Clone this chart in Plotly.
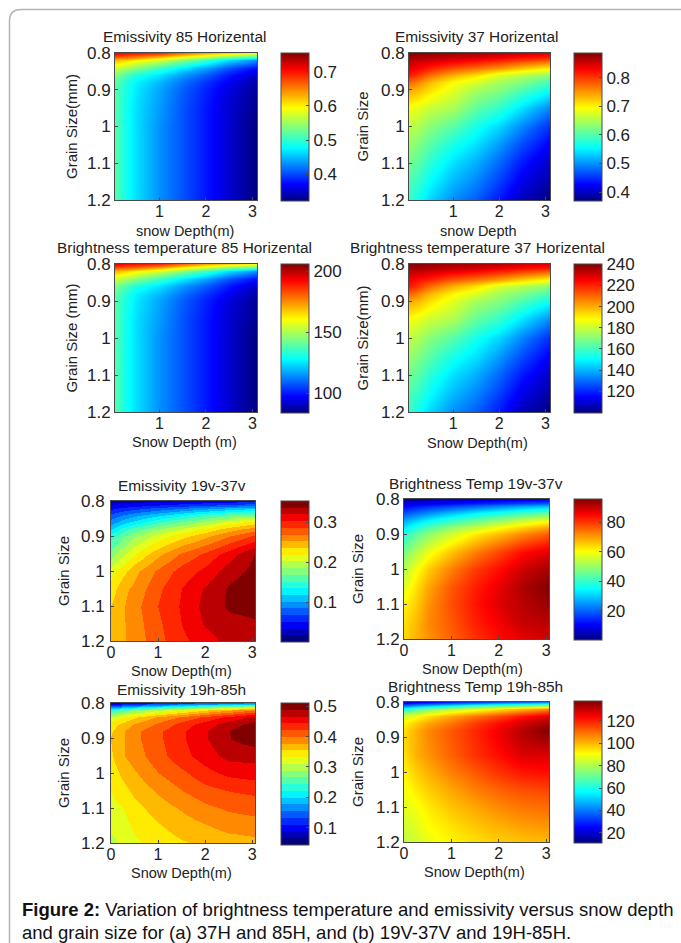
import plotly.graph_objects as go

W, H = 681, 943

# Axis samples
depth_a = [0.04, 0.25, 0.5, 1, 1.5, 2, 2.5, 3.1]
depth_b = [0, 0.25, 0.5, 1, 1.5, 2, 2.5, 3.06]
grain = [0.8, 0.81, 0.82, 0.84, 0.86, 0.88, 0.9, 0.95, 1.0, 1.05, 1.1, 1.15, 1.2]
grain_ticks = [0.8, 0.9, 1, 1.1, 1.2]
grain_labels = ["0.8", "0.9", "1", "1.1", "1.2"]

em85h = [
    [.712, .703, .699, .690, .660, .634, .612, .590],
    [.668, .660, .651, .625, .590, .560, .530, .504],
    [.625, .616, .599, .573, .539, .504, .465, .430],
    [.573, .556, .539, .504, .469, .439, .404, .374],
    [.539, .513, .491, .465, .435, .409, .378, .348],
    [.521, .495, .474, .448, .417, .391, .365, .335],
    [.517, .491, .469, .439, .409, .383, .357, .331],
    [.517, .487, .465, .435, .404, .378, .352, .326],
    [.517, .487, .465, .430, .404, .378, .352, .322],
    [.517, .487, .465, .430, .404, .378, .352, .322],
    [.517, .487, .465, .430, .404, .378, .352, .322],
    [.517, .487, .465, .430, .404, .378, .352, .322],
    [.517, .487, .465, .430, .404, .378, .352, .322],
]
em37h = [
    [.881, .881, .876, .871, .865, .860, .850, .839],
    [.871, .871, .865, .855, .850, .839, .824, .814],
    [.860, .855, .850, .839, .829, .814, .798, .783],
    [.840, .829, .814, .788, .772, .752, .726, .700],
    [.819, .798, .772, .736, .710, .675, .655, .633],
    [.777, .756, .731, .695, .674, .645, .625, .591],
    [.741, .730, .710, .679, .645, .627, .596, .560],
    [.690, .679, .664, .648, .607, .581, .540, .493],
    [.659, .648, .628, .602, .565, .534, .493, .447],
    [.638, .622, .602, .566, .540, .503, .462, .421],
    [.617, .602, .576, .540, .514, .478, .436, .400],
    [.596, .581, .555, .519, .493, .457, .416, .385],
    [.586, .560, .534, .498, .472, .436, .395, .369],
]
tb85h = [
    [193.8, 191.4, 190.1, 187.7, 179.2, 171.8, 165.7, 159.6],
    [181.6, 179.2, 176.7, 169.4, 159.6, 151.1, 142.6, 135.2],
    [169.4, 167.0, 162.1, 154.8, 145.0, 135.2, 124.3, 114.5],
    [154.8, 149.9, 145.0, 135.2, 125.5, 116.9, 107.2, 98.6],
    [145.0, 137.7, 131.6, 124.3, 115.7, 108.4, 99.9, 91.3],
    [140.1, 132.8, 126.7, 119.4, 110.8, 103.5, 96.2, 87.7],
    [138.9, 131.6, 125.5, 116.9, 108.4, 101.1, 93.8, 86.4],
    [138.9, 130.4, 124.3, 115.7, 107.2, 99.9, 92.5, 85.2],
    [138.9, 130.4, 124.3, 114.5, 107.2, 99.9, 92.5, 84.0],
    [138.9, 130.4, 124.3, 114.5, 107.2, 99.9, 92.5, 84.0],
    [138.9, 130.4, 124.3, 114.5, 107.2, 99.9, 92.5, 84.0],
    [138.9, 130.4, 124.3, 114.5, 107.2, 99.9, 92.5, 84.0],
    [138.9, 130.4, 124.3, 114.5, 107.2, 99.9, 92.5, 84.0],
]
tb37h = [
    [238.9, 238.9, 237.5, 236.1, 234.7, 233.3, 230.4, 227.6],
    [236.1, 236.1, 234.7, 231.8, 230.4, 227.6, 223.4, 220.6],
    [233.3, 231.8, 230.4, 227.6, 224.8, 220.6, 216.3, 212.1],
    [226.2, 223.4, 220.6, 213.5, 209.3, 203.7, 196.6, 189.6],
    [222.0, 216.3, 209.3, 199.4, 192.4, 182.5, 177.0, 171.3],
    [210.7, 205.1, 198.0, 188.9, 182.5, 174.1, 168.4, 160.0],
    [200.8, 198.0, 192.4, 183.9, 174.8, 169.9, 161.4, 151.5],
    [186.8, 183.9, 179.7, 175.5, 164.2, 157.2, 145.9, 133.2],
    [178.3, 175.5, 169.9, 162.8, 152.9, 144.5, 133.2, 120.5],
    [172.7, 168.4, 162.8, 152.9, 145.9, 136.0, 124.8, 113.5],
    [167.0, 162.8, 155.8, 145.9, 138.9, 129.0, 117.7, 107.9],
    [161.4, 157.2, 150.1, 140.3, 133.2, 123.4, 112.1, 103.6],
    [158.6, 151.5, 144.5, 134.6, 127.6, 117.7, 106.4, 99.4],
]
em19v37v = [
    [.021, .025, .028, .032, .035, .039, .042, .046],
    [.035, .039, .042, .050, .057, .064, .071, .078],
    [.046, .053, .060, .071, .081, .092, .103, .113],
    [.071, .085, .096, .113, .131, .149, .163, .177],
    [.092, .110, .124, .149, .170, .188, .209, .227],
    [.117, .142, .159, .184, .205, .223, .244, .262],
    [.142, .166, .184, .209, .230, .248, .269, .290],
    [.177, .198, .219, .248, .273, .290, .312, .338],
    [.212, .230, .248, .273, .294, .308, .329, .343],
    [.227, .248, .258, .283, .304, .322, .340, .350],
    [.237, .251, .264, .287, .306, .326, .340, .343],
    [.241, .251, .262, .283, .304, .322, .331, .335],
    [.244, .251, .260, .281, .299, .313, .326, .335],
]
tb19v37v = [
    [3.0, 3.9, 4.9, 5.8, 6.8, 7.8, 8.7, 9.7],
    [6.8, 7.8, 8.7, 10.6, 12.5, 14.5, 16.4, 18.3],
    [10.6, 12.5, 14.5, 17.3, 20.2, 23.1, 26.0, 28.8],
    [18.3, 21.2, 24.0, 28.8, 33.6, 37.4, 41.3, 45.1],
    [26.0, 29.8, 33.6, 39.3, 44.1, 48.9, 53.7, 58.5],
    [32.6, 37.4, 42.2, 48.9, 53.7, 59.4, 64.2, 69.0],
    [38.4, 44.1, 48.9, 55.6, 62.3, 67.1, 71.9, 76.7],
    [47.0, 52.7, 58.5, 66.1, 72.8, 78.6, 84.3, 88.1],
    [52.7, 59.4, 65.2, 72.8, 79.5, 84.3, 89.1, 92.9],
    [57.5, 63.3, 69.0, 76.7, 82.4, 87.2, 92.0, 95.8],
    [61.3, 65.2, 70.9, 77.6, 83.4, 88.1, 91.0, 93.9],
    [63.3, 67.1, 71.9, 76.7, 82.4, 86.2, 90.1, 91.0],
    [64.2, 68.0, 70.9, 75.7, 80.5, 84.3, 87.2, 89.1],
]
em19h85h = [
    [.080, .089, .099, .113, .127, .136, .146, .160],
    [.160, .178, .197, .221, .249, .272, .291, .310],
    [.230, .253, .277, .305, .328, .352, .375, .399],
    [.314, .333, .352, .380, .403, .427, .450, .474],
    [.342, .361, .380, .403, .431, .455, .478, .497],
    [.352, .375, .394, .417, .441, .464, .488, .511],
    [.356, .375, .394, .417, .441, .464, .488, .502],
    [.352, .375, .389, .413, .436, .455, .474, .474],
    [.342, .361, .375, .399, .417, .436, .450, .455],
    [.333, .347, .361, .380, .399, .413, .422, .427],
    [.324, .333, .347, .366, .380, .394, .403, .408],
    [.314, .324, .338, .352, .366, .375, .385, .389],
    [.305, .314, .328, .342, .352, .361, .366, .370],
]
tb19h85h = [
    [18.6, 22.4, 24.9, 28.7, 32.5, 36.3, 38.8, 42.6],
    [42.6, 47.7, 52.7, 59.1, 66.7, 73.0, 78.0, 83.1],
    [61.6, 67.9, 74.3, 81.8, 88.2, 94.5, 100.8, 107.1],
    [84.4, 89.4, 94.5, 102.1, 108.4, 114.7, 121.1, 127.4],
    [92.0, 97.0, 102.1, 108.4, 116.0, 122.3, 128.6, 133.7],
    [94.5, 100.8, 105.9, 112.2, 118.5, 124.9, 131.2, 137.5],
    [95.8, 100.8, 105.9, 112.2, 118.5, 124.9, 131.2, 135.0],
    [94.5, 100.8, 104.6, 110.9, 117.3, 122.3, 127.4, 127.4],
    [92.0, 97.0, 100.8, 107.1, 112.2, 117.3, 121.1, 122.3],
    [89.4, 93.2, 97.0, 102.1, 107.1, 110.9, 113.5, 114.7],
    [86.9, 89.4, 93.2, 98.3, 102.1, 105.9, 108.4, 109.7],
    [84.4, 86.9, 90.7, 94.5, 98.3, 100.8, 103.4, 104.6],
    [81.8, 84.4, 88.2, 92.0, 94.5, 97.0, 98.3, 99.6],
]

JET_STOPS = [(0.0, (0, 0, 128)), (0.11, (0, 0, 255)), (0.36, (0, 255, 255)),
             (0.63, (255, 255, 0)), (0.89, (255, 0, 0)), (1.0, (128, 0, 0))]


def jet(t):
    for (a, ca), (b, cb) in zip(JET_STOPS, JET_STOPS[1:]):
        if t <= b:
            u = (t - a) / (b - a)
            return tuple(round(p + (q - p) * u) for p, q in zip(ca, cb))
    return JET_STOPS[-1][1]


def rgb(c):
    return f"rgb({c[0]},{c[1]},{c[2]})"


JET = [[s, rgb(c)] for s, c in JET_STOPS]


def stepped(n):
    scale = []
    for i in range(n):
        c = rgb(jet(i / (n - 1)))
        scale += [[i / n, c], [(i + 1) / n, c]]
    return scale


FONT = "Liberation Sans, Arial, sans-serif"
INK = "#222222"
LINE = "#4a4a4a"

panels = [
    dict(z=em85h, x=depth_a, zr=(.322, .755), cticks=[.4, .5, .6, .7], cs=JET, title="Emissivity 85 Horizental",
         xt="snow Depth(m)", yt="Grain Size(mm)", box=(115, 257, 53, 200), cb=(53, 201), tx=184, ty=37,
         xl=(185, 231), ys=5, yg=0),
    dict(z=em37h, x=depth_a, zr=(.369, .886), cticks=[.4, .5, .6, .7, .8], cs=JET, title="Emissivity 37 Horizental",
         xt="snow Depth", yt="Grain Size", box=(409, 550, 53, 200), cb=(53, 201), tx=476, ty=37,
         xl=(478, 231), ys=8, yg=0),
    dict(z=tb85h, x=depth_a, zr=(84, 206), cticks=[100, 150, 200], cs=JET, title="Brightness temperature 85 Horizental",
         xt="Snow Depth (m)", yt="Grain Size (mm)", box=(115, 257, 264, 412), cb=(264, 413), tx=184, ty=248,
         xl=(184, 442), ys=5, yg=0),
    dict(z=tb37h, x=depth_a, zr=(99.4, 240.3), cticks=[120, 140, 160, 180, 200, 220, 240], cs=JET,
         title="Brightness temperature 37 Horizental",
         xt="Snow Depth(m)", yt="Grain Size(mm)", box=(409, 550, 264, 412), cb=(264, 413), tx=477, ty=248,
         xl=(477, 443), ys=8, yg=0),
    dict(z=em19v37v, x=depth_b, zr=(0, .354), cticks=[.1, .2, .3], cs=stepped(21), title="Emissivity 19v-37v",
         xt="Snow Depth(m)", yt="Grain Size", box=(111, 255, 501, 641), cb=(501, 642), tx=182, ty=485,
         xl=(181, 671), ys=7, yg=2),
    dict(z=tb19v37v, x=depth_b, zr=(.1, 95.8), cticks=[20, 40, 60, 80], cs=JET, title="Brightness Temp 19v-37v",
         xt="Snow Depth(m)", yt="Grain Size", box=(404, 549, 499, 639), cb=(499, 640), tx=476, ty=484,
         xl=(473, 669), ys=8, yg=0),
    dict(z=em19h85h, x=depth_b, zr=(.0425, .511), cticks=[.1, .2, .3, .4, .5], cs=stepped(21), title="Emissivity 19h-85h",
         xt="Snow Depth(m)", yt="Grain Size", box=(111, 255, 703, 843), cb=(703, 845), tx=181, ty=689,
         xl=(181, 873), ys=7, yg=2),
    dict(z=tb19h85h, x=depth_b, zr=(11, 137.5), cticks=[20, 40, 60, 80, 100, 120], cs=JET, title="Brightness Temp 19h-85h",
         xt="Snow Depth(m)", yt="Grain Size", box=(404, 549, 702, 842), cb=(701, 843), tx=475, ty=686,
         xl=(474, 872), ys=8, yg=0),
]

fig = go.Figure()
layout = dict(width=W, height=H, margin=dict(l=0, r=0, t=0, b=0, autoexpand=False), paper_bgcolor="white",
              plot_bgcolor="white", font=dict(family=FONT, color=INK), showlegend=False)
annotations = []

for i, p in enumerate(panels, start=1):
    x0, x1, y0, y1 = p["box"]
    xname, yname = f"xaxis{i}", f"yaxis{i}"
    xr, yr = f"x{i}", f"y{i}"
    cb_left = 281 if x0 < 300 else 574
    fig.add_trace(go.Heatmap(
        z=p["z"], x=p["x"], y=grain, xaxis=xr, yaxis=yr, zmin=p["zr"][0], zmax=p["zr"][1],
        colorscale=p["cs"], zsmooth="best",
        colorbar=dict(x=cb_left / W, xanchor="left", y=1 - p["cb"][1] / H, yanchor="bottom",
                      lenmode="fraction", len=(p["cb"][1] - p["cb"][0]) / H,
                      thicknessmode="pixels", thickness=28, xpad=0, ypad=0,
                      outlinecolor=LINE, outlinewidth=1, borderwidth=0,
                      ticks="inside", ticklen=3, tickcolor=LINE, tickwidth=1,
                      tickvals=p["cticks"], tickfont=dict(size=17, color=INK, family=FONT)),
    ))
    layout[xname] = dict(domain=[x0 / W, x1 / W], anchor=yr, range=[p["x"][0], p["x"][-1]],
                         tickvals=[0, 1, 2, 3] if p["x"][0] == 0 else [1, 2, 3], ticks="inside", ticklen=3,
                         tickcolor=LINE, showline=True, mirror=True, linecolor=LINE, linewidth=1, showgrid=False,
                         zeroline=False, tickfont=dict(size=16, color=INK), ticklabelstandoff=-3)
    layout[yname] = dict(domain=[1 - y1 / H, 1 - y0 / H], anchor=xr, range=[1.2, 0.8],
                         tickvals=grain_ticks, ticktext=grain_labels, ticks="inside", ticklen=3,
                         tickcolor=LINE, showline=True, mirror=True, linecolor=LINE, linewidth=1, showgrid=False,
                         zeroline=False, tickfont=dict(size=17, color=INK), ticklabelstandoff=p["yg"],
                         title=dict(text=p["yt"], font=dict(size=15, color=INK), standoff=p["ys"]))
    annotations.append(dict(text=p["title"], xref="paper", yref="paper", x=p["tx"] / W, y=1 - p["ty"] / H,
                            xanchor="center", yanchor="middle", showarrow=False, font=dict(size=15.4, color=INK)))
    annotations.append(dict(text=p["xt"], xref="paper", yref="paper", x=p["xl"][0] / W, y=1 - p["xl"][1] / H,
                            xanchor="center", yanchor="middle", showarrow=False, borderpad=0,
                            font=dict(size=14.5, color=INK)))

annotations.append(dict(text="<b>Figure 2:</b> Variation of brightness temperature and emissivity versus snow depth",
                        xref="paper", yref="paper", x=20 / W, y=1 - 909 / H, xanchor="left", yanchor="middle",
                        showarrow=False, font=dict(size=18.5, color="#111111")))
annotations.append(dict(text="and grain size for (a) 37H and 85H, and (b) 19V-37V and 19H-85H.",
                        xref="paper", yref="paper", x=20 / W, y=1 - 932 / H, xanchor="left", yanchor="middle",
                        showarrow=False, font=dict(size=18.5, color="#111111")))
layout["annotations"] = annotations


def px(x, y):
    return f"{x / W:.5f} {1 - y / H:.5f}"


layout["shapes"] = [dict(type="path", xref="paper", yref="paper",
                         path=f"M {px(9.5, 943)} L {px(9.5, 21)} Q {px(9.5, 9.5)} {px(21, 9.5)} L {px(681, 9.5)}",
                         line=dict(color="#b4b4b4", width=1.5))]

fig.update_layout(**layout)
fig.write_html("out.html", config={"displayModeBar": False},
               post_script="document.body.style.margin='0';document.body.style.overflow='hidden';")
